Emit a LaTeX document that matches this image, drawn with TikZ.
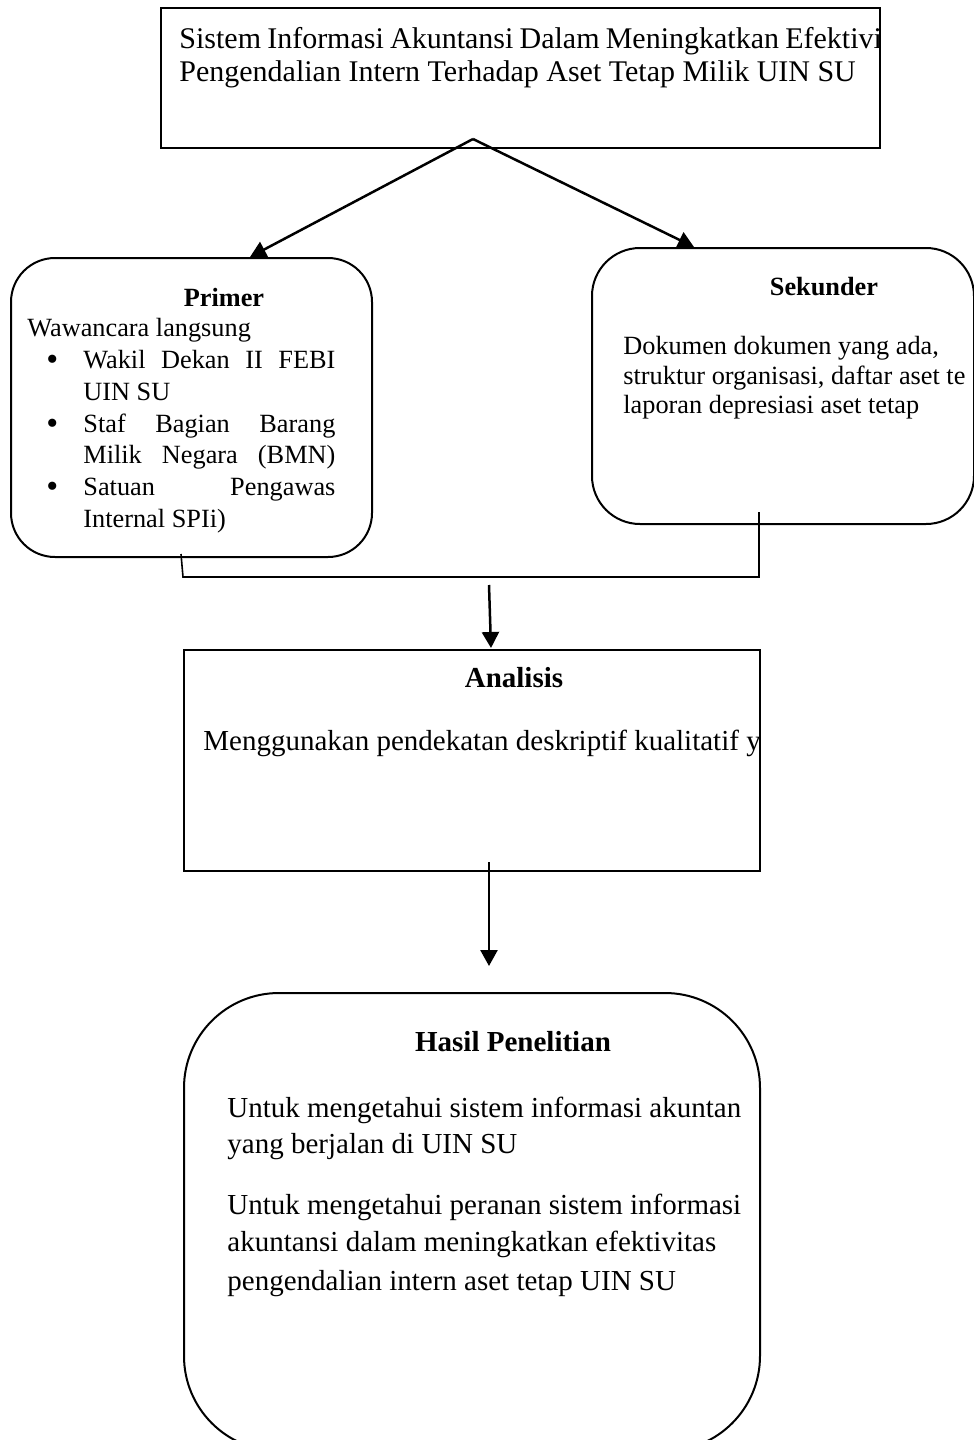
\documentclass[tikz,border=0pt]{standalone}
\usepackage{fontspec}
\setmainfont{Liberation Serif}
\usetikzlibrary{arrows.meta}
\begin{document}
\begin{tikzpicture}[x=0.5pt,y=-0.5pt,
  box/.style={draw,line width=1pt,inner sep=0pt,anchor=north west},
  big/.style={inner sep=0pt,font=\fontsize{14.5}{17}\selectfont},
  huge/.style={inner sep=0pt,font=\fontsize{15}{17}\selectfont},
  small/.style={inner sep=0pt,font=\fontsize{13.15}{15}\selectfont},
  bul/.style={inner sep=0pt,font=\fontsize{17}{15}\selectfont},
  txt/.style={anchor=base west},
  ttl/.style={anchor=base},
  conn/.style={line width=1.25pt},
  bracket/.style={line width=0.8pt},
  arr/.style={conn,-{Triangle[length=8pt,width=8.5pt]}}]
\useasboundingbox (0,0) rectangle (974,1440);
\begin{scope}
\clip (0,0) rectangle (974,1440);

% boxes
\node[box,minimum width=359.5pt,minimum height=70pt] (top) at (160,7) {};
\node[box,rounded corners=22pt,minimum width=180.5pt,minimum height=149.5pt] (primer) at (10,257) {};
\node[box,rounded corners=24pt,minimum width=191pt,minimum height=138pt] (sekunder) at (591,247) {};
\node[box,minimum width=288pt,minimum height=110.5pt] (analisis) at (183,649) {};
\node[box,rounded corners=47.5pt,minimum width=288pt,minimum height=229pt] (hasil) at (183,992) {};

% top text
\begin{scope}
\clip (160,7) rectangle (879,147);
\node[huge,txt] (t1) at (179,48) {\spaceskip=3.1pt plus 1pt\relax Sistem Informasi Akuntansi Dalam Meningkatkan Efektivita};
\node[huge,txt] (t2) at (179,81) {Pengendalian Intern Terhadap Aset Tetap Milik UIN SU};
\end{scope}

% primer text
\node[small,ttl,font=\fontsize{13.15}{15}\selectfont\bfseries] (ptitle) at (224,306) {Primer};
\node[small,txt] (p0) at (27,336) {Wawancara langsung};
\node[bul,txt] (pb1) at (46,370) {\textbullet};
\node[small,txt] (p1) at (83,368) {\makebox[126pt][s]{Wakil Dekan II FEBI}};
\node[small,txt] (p2) at (83,400) {UIN SU};
\node[bul,txt] (pb2) at (46,434) {\textbullet};
\node[small,txt] (p3) at (83,432) {\makebox[126pt][s]{Staf Bagian Barang}};
\node[small,txt] (p4) at (83,463) {\makebox[126pt][s]{Milik Negara (BMN)}};
\node[bul,txt] (pb3) at (46,497) {\textbullet};
\node[small,txt] (p5) at (83,495) {\makebox[126pt][s]{Satuan Pengawas}};
\node[small,txt] (p6) at (83,527) {Internal SPIi)};

% sekunder text
\node[small,ttl,font=\fontsize{13.15}{15}\selectfont\bfseries] (stitle) at (824,295) {Sekunder};
\begin{scope}
\clip (591,247) rectangle (966,523);
\node[small,txt] (s1) at (623,354) {Dokumen dokumen yang ada,};
\node[small,txt] (s2) at (623,384) {struktur organisasi, daftar aset te};
\node[small,txt] (s3) at (623,413) {laporan depresiasi aset tetap};
\end{scope}

% analisis text
\node[big,ttl,font=\fontsize{14.5}{17}\selectfont\bfseries] (atitle) at (514,687) {Analisis};
\begin{scope}
\clip (183,649) rectangle (759,870);
\node[big,txt] (a1) at (203,750) {Menggunakan pendekatan deskriptif kualitatif y};
\end{scope}

% hasil text
\node[big,ttl,font=\fontsize{14.5}{17}\selectfont\bfseries] (htitle) at (513,1051) {Hasil Penelitian};
\begin{scope}
\clip (183,992) rectangle (759,1440);
\node[big,txt] (h1) at (227,1117) {Untuk mengetahui sistem informasi akuntan};
\node[big,txt] (h2) at (227,1153) {yang berjalan di UIN SU};
\node[big,txt] (h3) at (227,1214) {Untuk mengetahui peranan sistem informasi};
\node[big,txt] (h4) at (227,1251) {akuntansi dalam meningkatkan efektivitas};
\node[big,txt] (h5) at (227,1290) {pengendalian intern aset tetap UIN SU};
\end{scope}

% connectors
\coordinate (apex) at (473,139);
\coordinate (ptip) at (250,257);
\coordinate (stip) at (694,247);
\draw[arr] (apex) -- (ptip);
\draw[arr] (apex) -- (stip);

\coordinate (pout) at (181,554);
\coordinate (pdown) at (183,577);
\coordinate (sdown) at (759,577);
\coordinate (sout) at (759,512);
\draw[bracket] (pout) -- (pdown) -- (sdown) -- (sout);

\coordinate (m1) at (489,585);
\coordinate (atop) at (491,648);
\draw[arr] (m1) -- (atop);

\coordinate (m2) at (489,862);
\coordinate (htop) at (489,966);
\draw[arr] (m2) -- (htop);
\end{scope}
\end{tikzpicture}
\end{document}
